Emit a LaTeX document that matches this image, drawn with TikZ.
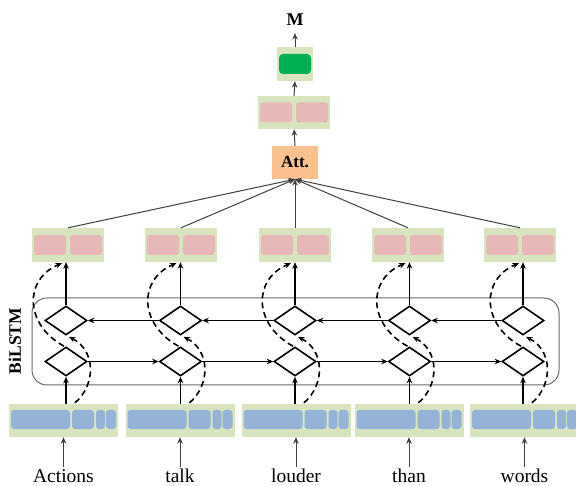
\documentclass[tikz,border=0pt]{standalone}
\usepackage{fontspec}
\setmainfont{Liberation Serif}
\usetikzlibrary{shapes.geometric,arrows.meta,calc}
\definecolor{lgreen}{HTML}{D7E4BD}
\definecolor{lpink}{HTML}{E6B9B8}
\definecolor{lblue}{HTML}{95B3D7}
\definecolor{dgreen}{HTML}{00B050}
\definecolor{lorange}{HTML}{FAC090}
\definecolor{arrgray}{HTML}{404040}
\definecolor{boxgray}{HTML}{6A6A6A}
\begin{document}
\begin{tikzpicture}[x=1pt,y=-1pt,
  outerbox/.style={fill=lgreen,draw=none,inner sep=0,minimum height=34},
  cell/.style={rounded corners=3pt,inner sep=0,minimum height=20,draw=none},
  pinkcell/.style={cell,fill=lpink,minimum width=32},
  bluecell/.style={cell,fill=lblue,minimum height=19},
  lstm/.style={diamond,draw=black,line width=1.6pt,inner sep=0,minimum width=42,minimum height=29,aspect=1.45},
  tip/.style={-{Stealth[length=6.5pt,width=5.5pt]}},
  solidarr/.style={tip,line width=1.7pt,black},
  horarr/.style={tip,line width=1.2pt,black},
  dasharr/.style={tip,line width=1.6pt,black,dash pattern=on 6pt off 4pt},
  attarr/.style={tip,line width=1pt,arrgray},
  word/.style={font=\fontsize{19.5}{22}\selectfont,inner sep=2pt,text height=13pt,text depth=4pt},
  boldlbl/.style={font=\bfseries\fontsize{18}{20}\selectfont,inner sep=0}
]
\path[use as bounding box] (0,0) rectangle (576,486);
\clip (0,0) rectangle (576,486);

% BiLSTM frame
\node[draw=boxgray,rounded corners=15pt,minimum width=527,minimum height=87,inner sep=0,line width=1pt] (frame) at (295.5,341.5) {};
\node[rotate=90,font=\bfseries\fontsize{17.5}{19}\selectfont,inner sep=0] (lbl) at (15,341) {BiLSTM};

% upper part
\node[fill=lorange,minimum width=46,minimum height=33,inner sep=0,font=\bfseries\fontsize{17}{19}\selectfont] (att) at (295,162.5) {Att.};
\node[outerbox,minimum width=72,minimum height=33] (p) at (294,112.5) {};
\node[pinkcell] (pa) at ($(p.center)+(-18,0)$) {};
\node[pinkcell] (pb) at ($(p.center)+(18,0)$) {};
\node[outerbox,minimum width=36,minimum height=34] (g) at (295,64) {};
\node[cell,fill=dgreen,minimum width=32,rounded corners=4pt] (gc) at (g.center) {};
\node[boldlbl] (M) at (295,20) {M};
\draw[attarr] (att.north) -- (p.south);
\draw[attarr] (p.north) -- (g.south);
\draw[attarr,shorten >=7pt] (g.north) -- (M.south);

% columns
\foreach \i/\x/\ex/\hx/\w in {1/66/63.5/68/Actions, 2/180.5/180/181/talk, 3/295/296/295/louder, 4/409.5/409/408/than, 5/523/524.5/520/words}{
  \node[lstm] (t\i) at (\x,320.5) {};
  \node[lstm] (b\i) at (\x,361.5) {};
  % embedding
  \node[outerbox,minimum width=109,minimum height=33] (e\i) at (\ex,420.5) {};
  \node[bluecell,minimum width=59] (e\i a) at ($(e\i.center)+(-23,-1)$) {};
  \node[bluecell,minimum width=22] (e\i b) at ($(e\i.center)+(19.5,-1)$) {};
  \node[bluecell,minimum width=9] (e\i c) at ($(e\i.center)+(37,-1)$) {};
  \node[bluecell,minimum width=10] (e\i d) at ($(e\i.center)+(47.5,-1)$) {};
  % hidden output
  \node[outerbox,minimum width=72] (h\i) at (\hx,245) {};
  \node[pinkcell] (h\i a) at ($(h\i.center)+(-18,0)$) {};
  \node[pinkcell] (h\i b) at ($(h\i.center)+(18,0)$) {};
  % word
  \node[word,anchor=base] (w\i) at (\ex,482) {\w};
  \draw[attarr] (w\i.north) -- (e\i.south);
  % vertical
  \draw[solidarr] (b\i.south |- e\i.north) -- (b\i.south);
  \draw[solidarr] (t\i.north) -- (t\i.north |- h\i.south);
  % dashed
  \draw[dasharr] ($(b\i.south |- e\i.north)+(9,-1)$) .. controls +(21,-18) and +(27,14) .. ($(t\i.south)+(3,1)$);
  \draw[dasharr] ($(b\i.north)+(-2,0)$) .. controls +(-40,-22) and +(-38,16) .. ($(t\i.north |- h\i.south)+(-4,1)$);
  % attention
  \draw[attarr] (h\i.north) -- (att.south);
}
\foreach \i/\j in {1/2,2/3,3/4,4/5}{
  \draw[horarr] (t\j.west) -- (t\i.east);
  \draw[horarr] (b\i.east) -- (b\j.west);
}
\end{tikzpicture}
\end{document}
